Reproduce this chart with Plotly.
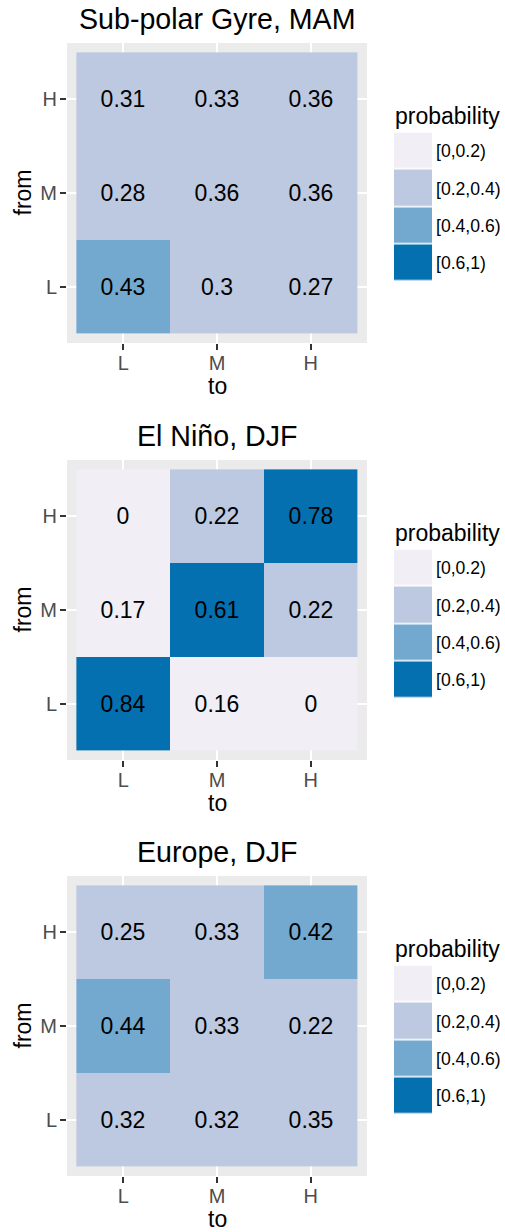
import plotly.graph_objects as go

# ---------------- data ----------------
levels = ["L", "M", "H"]               # state categories (to / from)
titles = ["Sub-polar Gyre, MAM", "El Niño, DJF", "Europe, DJF"]

# rows = "from" state (L, M, H), columns = "to" state (L, M, H)
subpolar_mam = [[0.43, 0.30, 0.27],
                [0.28, 0.36, 0.36],
                [0.31, 0.33, 0.36]]
elnino_djf = [[0.84, 0.16, 0.00],
              [0.17, 0.61, 0.22],
              [0.00, 0.22, 0.78]]
europe_djf = [[0.32, 0.32, 0.35],
              [0.44, 0.33, 0.22],
              [0.25, 0.33, 0.42]]

breaks = [0, 0.2, 0.4, 0.6, 1]
bin_labels = ["[0,0.2)", "[0.2,0.4)", "[0.4,0.6)", "[0.6,1)"]
bin_colors = ["#F1EEF6", "#BDC9E1", "#74A9CF", "#0570B0"]

# ---------------- helpers ----------------
W, H = 505, 1232
FONT = "Liberation Sans, Arial, Helvetica, sans-serif"


def fx(p):
    return p / W


def fy(p):
    return 1 - p / H


def bin_index(v):
    for i in range(len(breaks) - 1):
        if breaks[i] <= v < breaks[i + 1]:
            return i
    return len(breaks) - 2


n = len(bin_colors)
colorscale = []
for i, c in enumerate(bin_colors):
    colorscale.append([i / n, c])
    colorscale.append([(i + 1) / n, c])

fig = go.Figure()
layout = dict(width=W, height=H, margin=dict(l=0, r=0, t=0, b=0),
              paper_bgcolor="white", plot_bgcolor="white",
              font=dict(family=FONT, color="black"), showlegend=False)
annotations = []
shapes = []

panel_tops = [43, 460, 876]
panel_size = 300
px_left = 67

datasets = [subpolar_mam, elnino_djf, europe_djf]

for k, (mat, title, top) in enumerate(zip(datasets, titles, panel_tops)):
    a = k + 1          # main axes
    b = k + 4          # legend axes
    xa = "x" if a == 1 else f"x{a}"
    ya = "y" if a == 1 else f"y{a}"
    z = [[bin_index(v) for v in row] for row in mat]
    txt = [[f"{v:g}" for v in row] for row in mat]
    fig.add_trace(go.Heatmap(
        x=levels, y=levels, z=z, text=txt, texttemplate="%{text}",
        textfont=dict(size=23, color="black", family=FONT),
        colorscale=colorscale, zmin=-0.5, zmax=n - 0.5, showscale=False,
        xaxis=xa, yaxis=ya, hoverinfo="skip"))

    axis_common = dict(type="category", categoryorder="array", categoryarray=levels,
                       range=[-0.6, 2.6], showgrid=True, gridcolor="white", gridwidth=1.7,
                       zeroline=False, showline=False, ticks="outside", ticklen=6,
                       tickwidth=1.7, tickcolor="#333333",
                       tickfont=dict(size=20, color="#4D4D4D", family=FONT),
                       fixedrange=True)
    layout[f"xaxis{a if a > 1 else ''}"] = dict(
        axis_common, domain=[fx(px_left), fx(px_left + panel_size)], anchor=ya,
        ticklabelstandoff=-4)
    layout[f"yaxis{a if a > 1 else ''}"] = dict(
        axis_common, domain=[fy(top + panel_size), fy(top)], anchor=xa,
        ticklabelstandoff=-1)

    shapes.append(dict(type="rect", xref=f"{xa} domain", yref=f"{ya} domain",
                       x0=0, x1=1, y0=0, y1=1, fillcolor="#EBEBEB",
                       line=dict(width=0), layer="below"))

    # titles
    annotations.append(dict(text=title, x=fx(px_left + panel_size / 2), y=fy(top - 24),
                            xref="paper", yref="paper", xanchor="center", yanchor="middle",
                            showarrow=False, font=dict(size=28.6, color="black")))
    annotations.append(dict(text="to", x=fx(px_left + panel_size / 2),
                            y=fy(top + panel_size + 43),
                            xref="paper", yref="paper", xanchor="center", yanchor="middle",
                            showarrow=False, font=dict(size=23, color="black")))
    annotations.append(dict(text="from", x=fx(22.5), y=fy(top + panel_size / 2),
                            xref="paper", yref="paper", xanchor="center", yanchor="middle",
                            textangle=-90, showarrow=False,
                            font=dict(size=23, color="black")))

    # legend (drawn as a small heatmap of the bins)
    sw_top = top + 89.5
    sw_h = 149
    lx = f"x{b}"
    ly = f"y{b}"
    fig.add_trace(go.Heatmap(
        x=[0], y=bin_labels, z=[[i] for i in range(n)],
        colorscale=colorscale, zmin=-0.5, zmax=n - 0.5, showscale=False,
        ygap=1.5, xaxis=lx, yaxis=ly, hoverinfo="skip"))
    layout[f"xaxis{b}"] = dict(domain=[fx(394), fx(432)], anchor=ly, visible=False,
                               range=[-0.5, 0.5], fixedrange=True)
    layout[f"yaxis{b}"] = dict(domain=[fy(sw_top + sw_h), fy(sw_top)], anchor=lx,
                               side="right", type="category", categoryorder="array",
                               categoryarray=bin_labels, range=[n - 0.5, -0.5],
                               showgrid=False, zeroline=False, showline=False, ticks="",
                               ticklabelstandoff=3,
                               tickfont=dict(size=17.6, color="black", family=FONT),
                               fixedrange=True)
    annotations.append(dict(text="probability", x=fx(393), y=fy(sw_top - 17),
                            xref="paper", yref="paper", xanchor="left", yanchor="middle",
                            showarrow=False, font=dict(size=23, color="black")))

layout["annotations"] = annotations
layout["shapes"] = shapes
fig.update_layout(**layout)
fig.write_html("out.html")
